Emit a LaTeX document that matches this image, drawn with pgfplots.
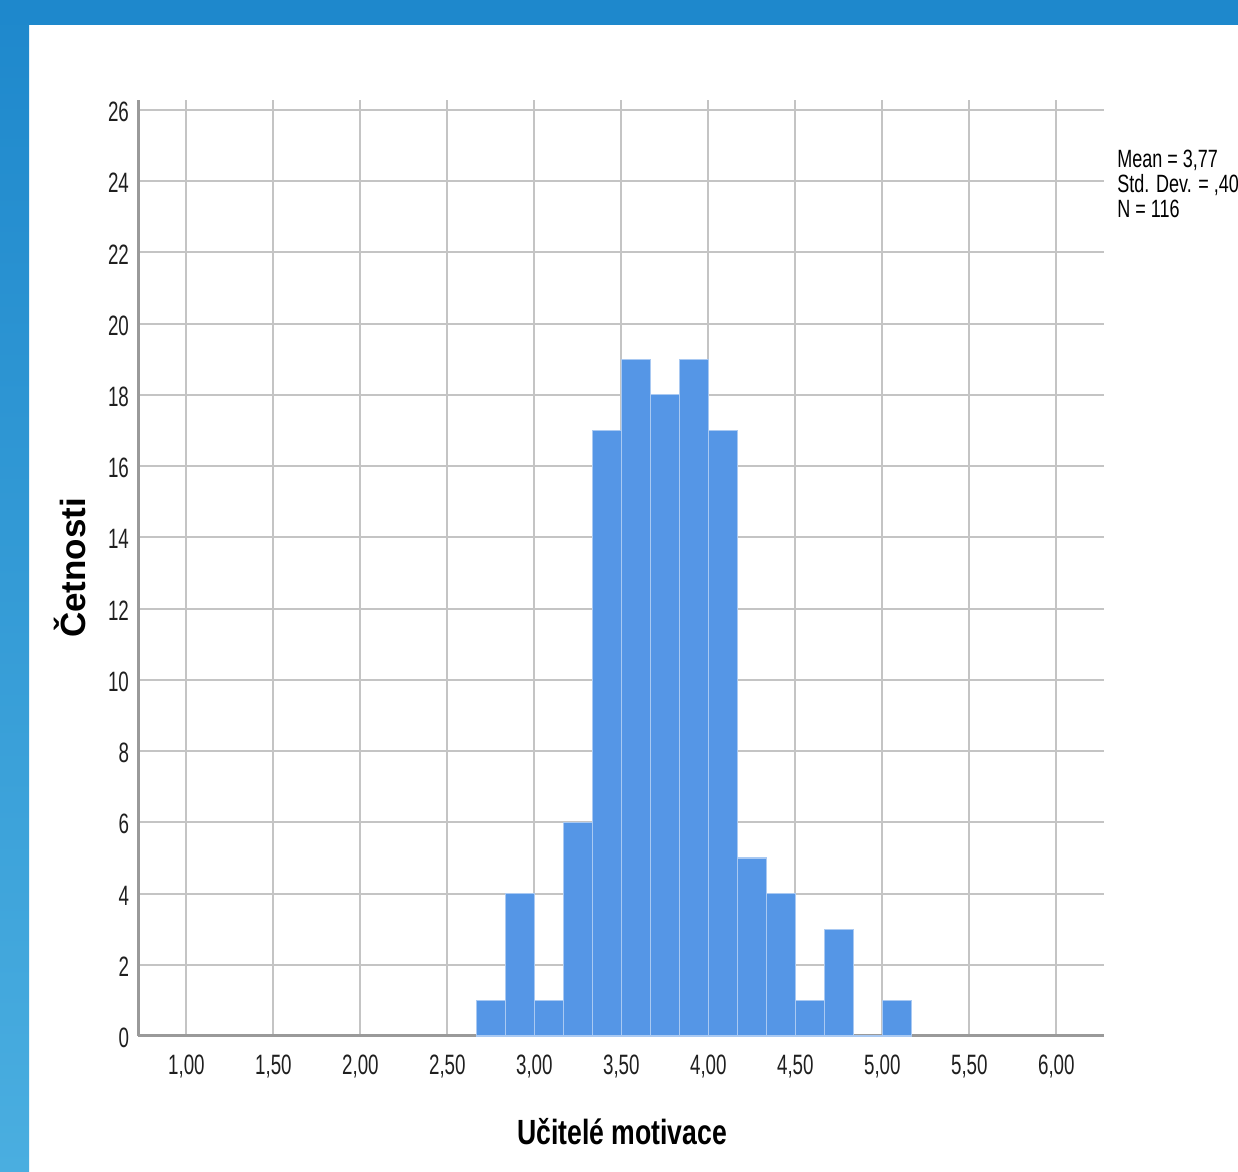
\documentclass[border=0pt]{standalone}
\usepackage{pgfplots}
\pgfplotsset{compat=1.18}
\usepackage{fontspec}
\setmainfont{Liberation Sans}[FakeStretch=0.67]
\newfontfamily\ylabfont{Liberation Sans}
\newfontfamily\xlabfont{Liberation Sans}[FakeStretch=0.76]
\newfontfamily\infofont{Liberation Sans}[FakeStretch=0.72]

\definecolor{barblue}{HTML}{5596E6}
\definecolor{baredge}{HTML}{A9C9F2}
\definecolor{gridgray}{HTML}{C4C4C4}
\definecolor{axisgray}{HTML}{9A9A9A}
\definecolor{slideblue}{HTML}{1E88CC}
\definecolor{slidelight}{HTML}{4AAEE0}

\begin{document}
\begin{tikzpicture}
% slide frame (1px = 0.5pt)
\fill[white] (0,0) rectangle (619pt,586pt);
\clip (0,0) rectangle (619pt,586pt);
\shade[top color=slideblue, bottom color=slidelight] (0,0) rectangle (14.5pt,586pt);
\fill[slideblue] (0,573.5pt) rectangle (619pt,586pt);

\begin{axis}[
    at={(69pt,68pt)}, anchor=south west,
    scale only axis,
    width=483pt, height=468pt,
    xmin=0.722, xmax=6.274,
    ymin=0, ymax=26.28,
    axis lines*=left,
    axis line style={axisgray, line width=1.5pt},
    xtick={1,1.5,2,2.5,3,3.5,4,4.5,5,5.5,6},
    xticklabels={{1,00},{1,50},{2,00},{2,50},{3,00},{3,50},{4,00},{4,50},{5,00},{5,50},{6,00}},
    ytick={0,2,4,6,8,10,12,14,16,18,20,22,24,26},
    major tick length=0pt,
    grid=major,
    grid style={gridgray, line width=1pt},
    tick label style={font=\fontsize{14}{16}\selectfont, color=black!88},
    xticklabel style={yshift=-6pt},
    yticklabel style={xshift=-1pt, yshift=-1pt},
    /pgf/number format/assume math mode=true,
    clip=false,
]
\addplot[ybar interval, fill=barblue, draw=baredge, line width=0.6pt]
    coordinates {
    (2.6667,1) (2.8333,4) (3.0000,1) (3.1667,6) (3.3333,17)
    (3.5000,19) (3.6667,18) (3.8333,19) (4.0000,17) (4.1667,5)
    (4.3333,4) (4.5000,1) (4.6667,3) (4.8333,0) (5.0000,1)
    (5.1667,1)
    };
\end{axis}

\node[font=\fontsize{17.5}{20}\xlabfont\bfseries] at (311pt,20pt) {Učitelé motivace};
\node[font=\fontsize{17.5}{20}\ylabfont\bfseries, rotate=90] at (35pt,302pt) {Četnosti};
\node[anchor=north west, align=left, inner sep=0pt,
      font=\fontsize{12.5}{12.5}\infofont] at (558.5pt,511pt)
      {Mean = 3,77\\Std. Dev. = ,408\\N = 116};
\end{tikzpicture}
\end{document}
